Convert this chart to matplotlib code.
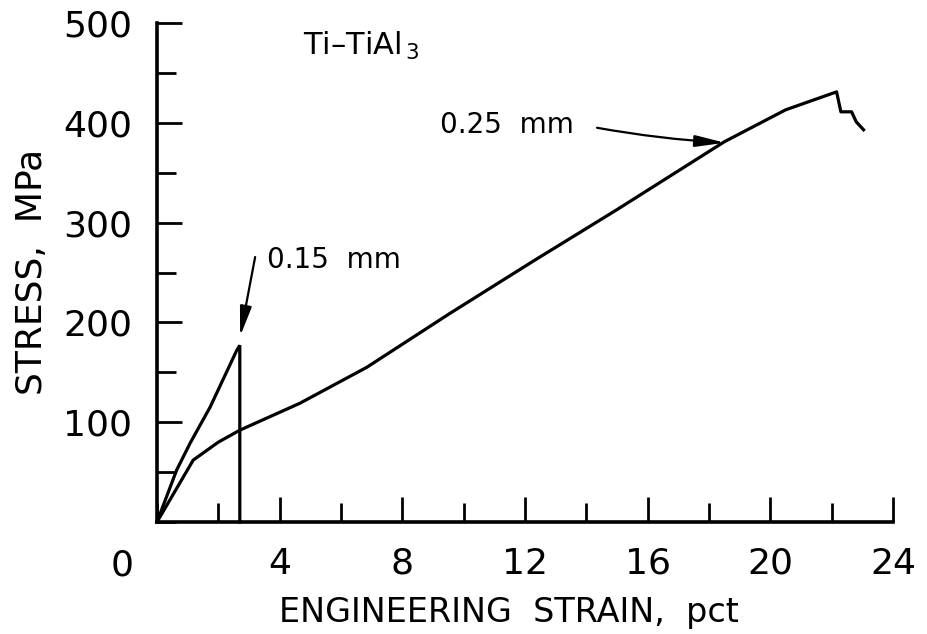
import matplotlib
matplotlib.use("Agg")
import matplotlib.pyplot as plt
from matplotlib.ticker import MultipleLocator

# ---- data ----
strain_015 = [0.0, 0.64, 1.08, 1.73, 2.6, 2.7, 2.7]
stress_015 = [0.0, 52, 79, 115, 172, 177, 0.0]

strain_025 = [0.0, 1.18, 2.0, 2.7, 4.66, 6.84, 9.55, 12.3, 15.0, 18.5, 20.5, 22.16, 22.3, 22.65, 22.8, 23.04]
stress_025 = [0.0, 62, 80, 92, 119, 155, 209, 262, 313, 381, 413, 431, 411, 411, 401, 393]

x_ticks = [4, 8, 12, 16, 20, 24]
y_ticks = [100, 200, 300, 400, 500]

label_015 = "0.15  mm"
label_025 = "0.25  mm"
title_text = "Ti\u2013TiAl$_{\\,3}$"

fig = plt.figure(figsize=(9.27, 6.34), dpi=100)
ax = fig.add_axes([157/927, 112/634, 736/927, 499/634])

lw = 2.3
ax.plot(strain_015, stress_015, color="black", lw=lw, solid_joinstyle="miter", clip_on=False)
ax.plot(strain_025, stress_025, color="black", lw=lw, clip_on=False)

ax.set_xlim(0, 24)
ax.set_ylim(0, 500)

for s in ["top", "right"]:
    ax.spines[s].set_visible(False)
for s in ["left", "bottom"]:
    ax.spines[s].set_linewidth(2.6)

ax.xaxis.set_minor_locator(MultipleLocator(2))
ax.yaxis.set_minor_locator(MultipleLocator(50))
ax.set_xticks(x_ticks)
ax.set_yticks(y_ticks)

ax.tick_params(which="major", direction="in", length=18, width=2.0, labelsize=26, pad=18)
ax.tick_params(which="minor", direction="in", length=14, width=2.0)

ax.set_xlabel("ENGINEERING  STRAIN,  pct", fontsize=24, va="center")
ax.xaxis.set_label_coords(0.478, -0.182)
ax.set_ylabel("STRESS,  MPa", fontsize=26, va="center")
ax.yaxis.set_label_coords(-0.170, 0.501)

# corner zero label
ax.annotate("0", xy=(0, 0), xycoords="data", xytext=(122 - 157, -26),
            textcoords="offset pixels", ha="center", va="top", fontsize=26,
            annotation_clip=False)

# annotations
ax.text(4.76, 468, title_text, fontsize=22, va="baseline", ha="left")
ax.text(3.59, 254.5, label_015, fontsize=20, va="baseline", ha="left")
ax.text(9.23, 390, label_025, fontsize=20, va="baseline", ha="left")

arrow_style = dict(arrowstyle="-|>,head_length=1.8,head_width=0.35", lw=1.6,
                   color="black", mutation_scale=10, shrinkA=0, shrinkB=0)
ax.annotate("", xy=(2.71, 186), xytext=(3.2, 265.5), arrowprops=arrow_style)
ax.annotate("", xy=(18.52, 380), xytext=(14.35, 395),
            arrowprops=dict(arrow_style, connectionstyle="arc3,rad=0.03"))

fig.savefig("out.png", dpi=100)
